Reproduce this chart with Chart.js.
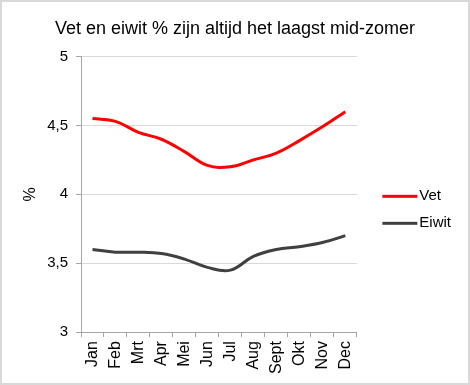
<!DOCTYPE html>
<html>
<head>
<meta charset="utf-8">
<script src="https://cdn.jsdelivr.net/npm/chart.js@4"></script>
<style>
  html, body { margin: 0; padding: 0; background: #fff; }
  #kader {
    position: absolute; left: 0; top: 0;
    width: 470px; height: 385px;
    box-sizing: border-box;
    border: 2px solid #d9d9d9;
  }
</style>
</head>
<body>
<div id="kader"><canvas id="grafiek" width="466" height="381"></canvas></div>
<script>
// Maanden en gehaltes (%)
const maanden = ['Jan', 'Feb', 'Mrt', 'Apr', 'Mei', 'Jun', 'Jul', 'Aug', 'Sept', 'Okt', 'Nov', 'Dec'];
const vet = [4.55, 4.53, 4.45, 4.40, 4.31, 4.21, 4.20, 4.25, 4.30, 4.39, 4.49, 4.60];
const eiwit = [3.60, 3.58, 3.58, 3.57, 3.53, 3.47, 3.45, 3.55, 3.60, 3.62, 3.65, 3.70];

Chart.defaults.font.family = 'Arial, "Liberation Sans", sans-serif';
Chart.defaults.color = '#000';

// Legendasymbool: streep die iets naar rechts staat (dichter bij de tekst)
function streep(kleur) {
  const c = document.createElement('canvas');
  c.width = 80;
  c.height = 7;
  const g = c.getContext('2d');
  g.fillStyle = kleur;
  g.fillRect(32, 2, 35, 3);
  return c;
}

const ctx = document.getElementById('grafiek');

new Chart(ctx, {
  type: 'line',
  data: {
    labels: maanden,
    datasets: [{
      label: 'Vet',
      data: vet,
      borderColor: '#ff0000',
      backgroundColor: '#ff0000',
      borderWidth: 3,
      pointRadius: 0,
      pointStyle: streep('#ff0000'),
      tension: 0.4
    },
    {
      label: 'Eiwit',
      data: eiwit,
      borderColor: '#404040',
      backgroundColor: '#404040',
      borderWidth: 3,
      pointRadius: 0,
      pointStyle: streep('#404040'),
      tension: 0.4
    }]
  },
  options: {
    responsive: false,
    animation: false,
    layout: {
      padding: { left: 7, right: 7, top: 0, bottom: 5 }
    },
    plugins: {
      title: {
        display: true,
        text: 'Vet en eiwit % zijn altijd het laagst mid-zomer',
        color: '#000',
        font: { size: 18, weight: 'normal' },
        padding: { top: 16, bottom: 17 }
      },
      legend: {
        position: 'right',
        // lege titel schuift de items iets omlaag, zoals in het origineel
        title: {
          display: true,
          text: ' ',
          font: { size: 13 },
          padding: { top: 12, bottom: 12 }
        },
        labels: {
          usePointStyle: true,
          pointStyleWidth: 43,
          boxHeight: 15,
          padding: 12,
          font: { size: 15 },
          color: '#000'
        }
      },
      tooltip: { enabled: false }
    },
    scales: {
      x: {
        offset: true,
        grid: {
          offset: true,
          drawOnChartArea: false,
          tickLength: 5,
          tickColor: '#a6a6a6'
        },
        border: { color: '#a6a6a6' },
        ticks: {
          maxRotation: 90,
          minRotation: 90,
          autoSkip: false,
          padding: 4,
          font: { size: 16 }
        }
      },
      y: {
        min: 3,
        max: 5,
        afterFit: function (as) { as.width = 72; },
        title: {
          display: true,
          text: '%',
          font: { size: 16 },
          padding: { top: 12, bottom: 5 }
        },
        grid: {
          color: '#d9d9d9',
          tickColor: '#a6a6a6',
          tickLength: 5
        },
        border: { color: '#a6a6a6' },
        ticks: {
          stepSize: 0.5,
          padding: 8,
          font: { size: 15 },
          callback: function (waarde) {
            return waarde.toString().replace('.', ',');
          }
        }
      }
    }
  }
});
</script>
</body>
</html>
